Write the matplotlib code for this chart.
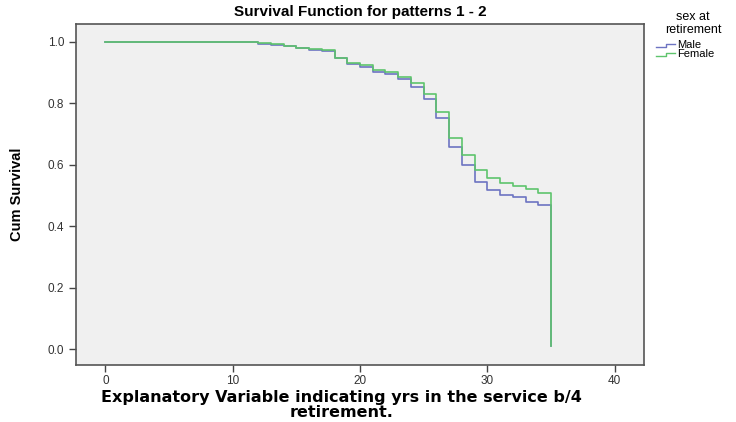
import matplotlib
matplotlib.use('Agg')
import matplotlib.pyplot as plt
from matplotlib.lines import Line2D

# Data
times = [0, 12, 13, 14, 15, 16, 17, 18, 19, 20, 21, 22, 23, 24,
         25, 26, 27, 28, 29, 30, 31, 32, 33, 34, 35]
male = [1.0, 0.994, 0.991, 0.985, 0.980, 0.975, 0.971, 0.946, 0.928, 0.917,
        0.903, 0.894, 0.878, 0.854, 0.813, 0.751, 0.659, 0.599, 0.545, 0.518,
        0.502, 0.494, 0.480, 0.469, 0.012]
female = [1.0, 0.995, 0.992, 0.986, 0.981, 0.976, 0.973, 0.949, 0.930, 0.924,
          0.910, 0.902, 0.886, 0.865, 0.832, 0.772, 0.686, 0.632, 0.583, 0.556,
          0.540, 0.531, 0.520, 0.507, 0.012]
groups = ['Male', 'Female']
colors = ['#6d74c2', '#5ec46c']
xticks = [0, 10, 20, 30, 40]
yticks = [0.0, 0.2, 0.4, 0.6, 0.8, 1.0]

plt.rcParams['font.family'] = ['Liberation Sans', 'DejaVu Sans']

fig = plt.figure(figsize=(7.36, 4.22), dpi=100)
ax = fig.add_axes([0.1033, 0.135, 0.7717, 0.808])
ax.set_facecolor('#f0f0f0')

for vals, c in zip([male, female], colors):
    ax.step(times, vals, where='post', color=c, linewidth=1.2)

ax.set_xlim(-2.3, 42.3)
ax.set_ylim(-0.051, 1.058)
ax.set_xticks(xticks)
ax.set_yticks(yticks)
ax.set_yticklabels([f'{v:.1f}' for v in yticks])
ax.tick_params(direction='out', length=5, width=1, colors='#444444',
               labelsize=8.5, labelcolor='#333333')
ax.tick_params(axis='x', pad=2)
for s in ax.spines.values():
    s.set_color('#555555')
    s.set_linewidth(1.2)

ax.set_title('Survival Function for patterns 1 - 2', fontsize=11,
             fontweight='bold', pad=6)
ax.set_xlabel('Explanatory Variable indicating yrs in the service b/4\nretirement.',
              fontsize=11.5, fontweight='bold', family='DejaVu Sans',
              linespacing=1.0, va='top')
ax.xaxis.set_label_coords(0.467, -0.072)
ax.set_ylabel('Cum Survival', fontsize=10.5, fontweight='bold', labelpad=17)

# Legend drawn by hand, SPSS style
W, H = 736, 422
fig.text(693 / W, 1 - 17 / H, 'sex at', ha='center', va='center', fontsize=9)
fig.text(693 / W, 1 - 30 / H, 'retirement', ha='center', va='center', fontsize=9)
for i, (g, c) in enumerate(zip(groups, colors)):
    yb = 47 + i * 9
    xs = [656, 666, 666, 675]
    ys = [yb, yb, yb - 3, yb - 3]
    fig.add_artist(Line2D([x / W for x in xs], [1 - y / H for y in ys],
                          color=c, linewidth=1.0, transform=fig.transFigure))
    fig.text(677 / W, 1 - (yb - 2) / H, g, ha='left', va='center', fontsize=8)

plt.savefig('out.png', dpi=100)
